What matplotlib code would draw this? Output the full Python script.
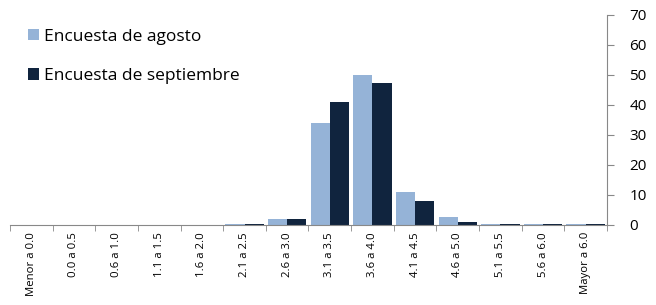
import matplotlib
matplotlib.use("Agg")
import matplotlib.pyplot as plt
import numpy as np

categories = ["Menor a 0.0", "0.0 a 0.5", "0.6 a 1.0", "1.1 a 1.5", "1.6 a 2.0",
              "2.1 a 2.5", "2.6 a 3.0", "3.1 a 3.5", "3.6 a 4.0", "4.1 a 4.5",
              "4.6 a 5.0", "5.1 a 5.5", "5.6 a 6.0", "Mayor a 6.0"]
agosto = [0, 0, 0, 0, 0, 0.4, 2.0, 34.0, 50.0, 11.0, 2.6, 0.3, 0.3, 0.3]
septiembre = [0, 0, 0, 0, 0, 0.5, 2.0, 41.0, 47.3, 8.0, 1.0, 0.3, 0.3, 0.3]
yticks = [0, 10, 20, 30, 40, 50, 60, 70]

plt.rcParams['font.family'] = ['Open Sans', 'DejaVu Sans']
fig = plt.figure(figsize=(6.56, 3.05), dpi=100)
ax = fig.add_axes([10/656, 1-225/305, (607-10)/656, 210/305])

x = np.arange(len(categories))
w = 0.45
ax.bar(x - w/2, agosto, w, color='#95B3D7', label='Encuesta de agosto')
ax.bar(x + w/2, septiembre, w, color='#10243E', label='Encuesta de septiembre')

ax.set_xlim(-0.5, len(categories) - 0.5)
ax.set_ylim(0, 70)
ax.set_yticks(yticks)
ax.yaxis.tick_right()
ax.tick_params(axis='y', direction='out', length=5, color='#888888', labelsize=11, pad=11)
ax.set_xticks(x)
ax.set_xticklabels(categories, rotation=90, fontsize=8.2)
ax.tick_params(axis='x', length=0, pad=5)
ax.set_xticks(np.arange(len(categories) + 1) - 0.5, minor=True)
ax.tick_params(axis='x', which='minor', direction='out', length=4, color='#888888')

for s in ['top', 'left']:
    ax.spines[s].set_visible(False)
for s in ['bottom', 'right']:
    ax.spines[s].set_color('#888888')

ax.legend(loc='upper left', bbox_to_anchor=(0.012, 0.985), frameon=False, fontsize=12.5,
          handlelength=0.65, handleheight=0.65, handletextpad=0.3, labelspacing=1.35,
          borderaxespad=0.2)

fig.savefig('out.png', dpi=100)
